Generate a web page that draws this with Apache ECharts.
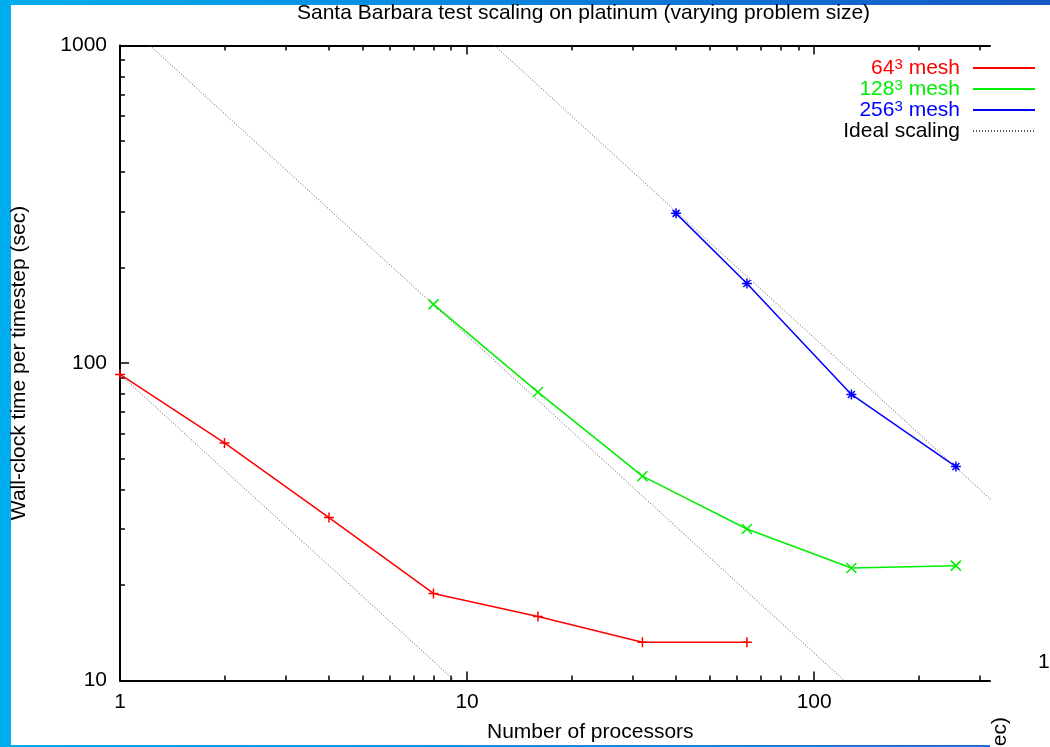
<!DOCTYPE html>
<html>
<head>
<meta charset="utf-8">
<script src="https://cdn.jsdelivr.net/npm/echarts@6/dist/echarts.min.js"></script>
<style>
html,body{margin:0;padding:0;background:#fff;}
#chart{width:1050px;height:747px;}
</style>
</head>
<body>
<div id="chart"></div>
<script>
// ---- data ----
const procs64 = [1, 2, 4, 8, 16, 32, 64];
const time64 = [92, 56, 32.6, 18.8, 15.9, 13.2, 13.2];
const procs128 = [8, 16, 32, 64, 128, 256];
const time128 = [153, 81, 44, 30, 22.6, 23.0];
const procs256 = [40, 64, 128, 256];
const time256 = [296, 178, 79.6, 47.2];
// ideal-scaling guide lines (end points)
const ideal1 = [[1, 92], [9.2, 10]];
const ideal2 = [[1.22, 1000], [122, 10]];
const ideal3 = [[12, 1000], [353, 34]];
// tick labels
const xMajor = [1, 10, 100];
const xMinor = [2, 3, 4, 5, 6, 7, 8, 9, 20, 30, 40, 50, 60, 70, 80, 90, 200, 300];
const yMajor = [10, 100, 1000];
const yMinor = [20, 30, 40, 50, 60, 70, 80, 90, 200, 300, 400, 500, 600, 700, 800, 900];
const names = ['64³ mesh', '128³ mesh', '256³ mesh', 'Ideal scaling'];
const colors = ['#ff0000', '#00ee00', '#0000ff', '#555555'];

const FONT = 'Liberation Sans, Arial, Helvetica, sans-serif';
const FS = 21;
const zip = (xs, ys) => xs.map((x, i) => [x, ys[i]]);

const SYM_PLUS = 'path://M0,5H10M5,0V10';
const SYM_X = 'path://M0,0L10,10M10,0L0,10';
const SYM_STAR = 'path://M5,0V10M0,5H10M1.5,1.5L8.5,8.5M8.5,1.5L1.5,8.5';

function xAx(pos, ticks, len, showLine, showLabel) {
  return {
    type: 'log', logBase: 10, min: 1, max: 321, position: pos, gridIndex: 0,
    axisLine: {show: showLine, lineStyle: {color: '#000', width: 2}},
    axisTick: {show: true, inside: true, length: len, customValues: ticks, lineStyle: {color: '#000', width: 1.5}},
    axisLabel: {show: showLabel, customValues: ticks, color: '#000', fontSize: FS, fontFamily: FONT, margin: 11,
                formatter: v => String(v)},
    splitLine: {show: false}, minorTick: {show: false}
  };
}
function yAx(pos, ticks, len, showLine, showLabel, withName) {
  const a = {
    type: 'log', logBase: 10, min: 10, max: 1000, position: pos, gridIndex: 0,
    axisLine: {show: showLine, lineStyle: {color: '#000', width: 2}},
    axisTick: {show: true, inside: true, length: len, customValues: ticks, lineStyle: {color: '#000', width: 1.5}},
    axisLabel: {show: showLabel, customValues: ticks, color: '#000', fontSize: FS, fontFamily: FONT, margin: 13,
                formatter: v => String(v)},
    splitLine: {show: false}, minorTick: {show: false}
  };
  if (withName) {
    a.name = 'Wall-clock time per timestep (sec)';
    a.nameLocation = 'middle';
    a.nameRotate = 90;
    a.nameGap = 90;
    a.nameTextStyle = {color: '#000', fontSize: FS, fontFamily: FONT};
  }
  return a;
}

const lineSeries = (name, data, color, sym) => ({
  name, type: 'line', data, xAxisIndex: 0, yAxisIndex: 0,
  symbol: sym, symbolSize: 10, showSymbol: true,
  lineStyle: {color, width: 1.5},
  itemStyle: {color, borderColor: color, borderWidth: 1.5},
  emphasis: {disabled: true}
});
const idealSeries = (data, clip) => ({
  name: 'Ideal scaling', type: 'line', data, xAxisIndex: 0, yAxisIndex: 0,
  symbol: 'none', clip,
  lineStyle: {color: '#555555', width: 1, type: [1, 2]},
  itemStyle: {color: '#555555'},
  emphasis: {disabled: true}
});

const supStyle = c => ({color: c, fontSize: 15, fontFamily: FONT, verticalAlign: 'top', lineHeight: 6});

const chart = echarts.init(document.getElementById('chart'), null, {renderer: 'canvas'});
chart.setOption({
  animation: false,
  backgroundColor: '#ffffff',
  textStyle: {fontFamily: FONT},
  title: [
    {text: 'Santa Barbara test scaling on platinum (varying problem size)', left: 297, top: 3, padding: 0,
     textStyle: {color: '#000', fontSize: FS, fontWeight: 'normal', fontFamily: FONT}},
    {text: 'Number of processors', left: 487, top: 722, padding: 0,
     textStyle: {color: '#000', fontSize: FS, fontWeight: 'normal', fontFamily: FONT}}
  ],
  grid: {left: 120, right: 60, top: 45.5, bottom: 66.5, containLabel: false, outerBoundsMode: 'none'},
  legend: {
    orient: 'vertical', right: 14, top: 57.5, padding: 0, itemGap: 0, align: 'right',
    itemWidth: 62, itemHeight: 4, selectedMode: false,
    itemStyle: {opacity: 0},
    formatter: n => n.replace('³', '{sup|3}'),
    textStyle: {fontSize: FS, fontFamily: FONT, lineHeight: 20.5, padding: [0, 8, 0, 0],
                rich: {sup: supStyle('#000')}},
    data: names.map((n, i) => {
      const c = i === 3 ? '#000' : colors[i];
      return {name: n, textStyle: {color: c, rich: {sup: supStyle(c)}}};
    })
  },
  xAxis: [
    xAx('bottom', xMajor, 9, true, true),
    xAx('bottom', xMinor, 5, false, false),
    xAx('top', xMajor, 9, true, false),
    xAx('top', xMinor, 5, false, false)
  ],
  yAxis: [
    yAx('left', yMajor, 9, true, true, true),
    yAx('left', yMinor, 5, false, false, false)
  ],
  series: [
    lineSeries(names[0], zip(procs64, time64), colors[0], SYM_PLUS),
    lineSeries(names[1], zip(procs128, time128), colors[1], SYM_X),
    lineSeries(names[2], zip(procs256, time256), colors[2], SYM_STAR),
    idealSeries(ideal1, true),
    idealSeries(ideal2, true),
    idealSeries(ideal3, false)
  ],
  graphic: [
    {type: 'rect', shape: {x: 0, y: 0, width: 11, height: 747}, style: {fill: '#00aeef'}, silent: true},
    {type: 'rect', shape: {x: 0, y: 0, width: 1050, height: 5}, silent: true,
     style: {fill: {type: 'linear', x: 0, y: 0, x2: 1, y2: 0, colorStops: [{offset: 0, color: '#00aeef'}, {offset: 1, color: '#1657c4'}]}}},
    {type: 'rect', shape: {x: 11, y: 745, width: 979, height: 2}, silent: true,
     style: {fill: {type: 'linear', x: 0, y: 0, x2: 1, y2: 0, colorStops: [{offset: 0, color: '#00a8ee'}, {offset: 1, color: '#1d6fd6'}]}}},
    {type: 'text', x: 1038, y: 662, silent: true, style: {text: '1', fontSize: FS, fontFamily: FONT, fill: '#000', verticalAlign: 'middle'}},
    {type: 'text', x: 1000, y: 717, rotation: Math.PI / 2, silent: true, style: {text: '(sec)', fontSize: FS, fontFamily: FONT, fill: '#000', align: 'right', verticalAlign: 'middle'}}
  ]
});
</script>
</body>
</html>
